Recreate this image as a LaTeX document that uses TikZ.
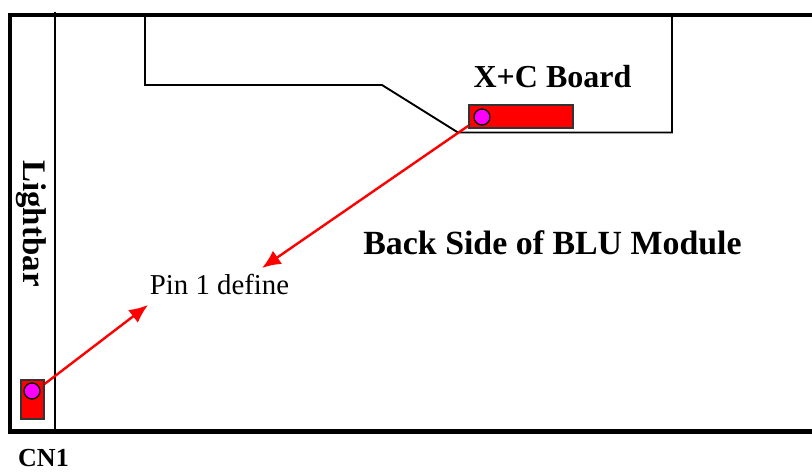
\documentclass[tikz,border=0pt]{standalone}
\usepackage{fontspec}
\setmainfont{Liberation Serif}
\usetikzlibrary{arrows.meta}
\definecolor{pinfill}{RGB}{255,0,255}
\tikzset{
    frameline/.style={draw, line width=3.7pt, line cap=rect},
    boardline/.style={draw, line width=1.4pt},
    conn/.style={
        draw=black!80,
        fill=red,
        rectangle,
        line width=1pt,
        inner sep=0pt,
    },
    pin/.style={
        draw,
        circle,
        fill=pinfill,
        line width=1pt,
        inner sep=0pt,
        minimum size=12pt,
    },
    pinline/.style={draw=red, line width=1.8pt, -{Latex[length=14pt,width=12pt]}},
    boldlabel/.style={font=\fontsize{25.4}{30}\selectfont\bfseries, inner sep=0pt},
}
\begin{document}
\begin{tikzpicture}[x=0.75pt,y=-0.75pt]
    \useasboundingbox (0,0) rectangle (812,471);
    % outer frame, open on the right
    \draw[frameline] (814,15) -- (10,15) -- (10,431.5) -- (814,431.5);
    \draw[boardline] (55,12) -- (55,430);
    % board outline
    \draw[boardline] (145,15) -- (145,85) -- (382,85) -- (458,132.5) -- (672,132.5) -- (672,15);
    % connectors
    \node[conn, minimum width=78pt, minimum height=17.25pt] (xcconn) at (521,116.5) {};
    \node[pin] (xcpin) at (482,117) {};
    \node[conn, minimum width=17.25pt, minimum height=29.25pt] (cnconn) at (32.5,399.5) {};
    \node[pin] (cnpin) at (32,391) {};
    % labels
    \node[boldlabel, font=\fontsize{24}{28}\selectfont\bfseries] (board) at (552.5,77) {X+C Board};
    \node[boldlabel] (blu) at (552.5,243) {Back Side of BLU Module};
    \node[boldlabel, font=\fontsize{24.7}{29}\selectfont\bfseries, rotate=-90] (lightbar) at (31,223.5) {Lightbar};
    \node[boldlabel, font=\fontsize{19.5}{23}\selectfont\bfseries] (cnone) at (43.5,458.5) {CN1};
    \node[inner sep=0pt, font=\fontsize{21.6}{26}\selectfont] (pindef) at (219.5,284) {Pin 1 define};
    % pointers
    \coordinate (tipa) at (262,268);
    \coordinate (tipb) at (148,305);
    \draw[pinline] (xcconn.190) -- (tipa);
    \draw[pinline] (cnconn.52) -- (tipb);
\end{tikzpicture}
\end{document}
